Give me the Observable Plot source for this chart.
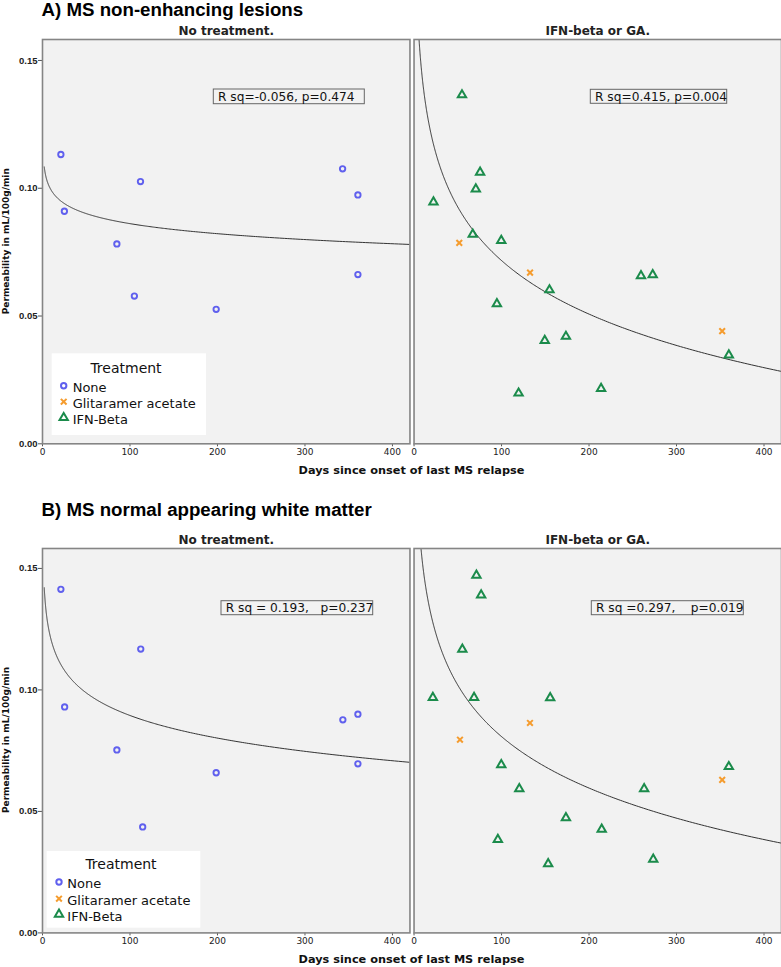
<!DOCTYPE html>
<html>
<head>
<meta charset="utf-8">
<script src="https://cdn.jsdelivr.net/npm/d3@7"></script>
<script src="https://cdn.jsdelivr.net/npm/@observablehq/plot@0.6"></script>
<style>
  body { margin: 0; background: #fff; }
  #root { position: relative; width: 781px; height: 967px; overflow: hidden; background: #fff; }
  [aria-label="fx-axis tick label"] { font-weight: bold; font-size: 12px; }
  [aria-label="y-axis tick label"] { font-weight: bold; font-size: 9.5px; font-family: "Liberation Sans", Arial, sans-serif; }
</style>
</head>
<body>
<div id="root"></div>
<script>
// ---------- shared categories / ticks ----------
const facetNames = ["No treatment.", "IFN-beta or GA."];
const treatments = ["None", "Glitaramer acetate", "IFN-Beta"];
const treatmentColors = ["#6060ee", "#f59c2e", "#1b8b4b"];
const treatmentSymbols = ["circle", "times", "triangle"];
const xTicks = [0, 100, 200, 300, 400];
const yTicks = [0, 0.05, 0.10, 0.15];
const panelTitles = ["A) MS non-enhancing lesions", "B) MS normal appearing white matter"];
const xLabel = "Days since onset of last MS relapse";
const yLabel = "Permeability in mL/100g/min";
const statsA = ["R sq=-0.056, p=0.474", "R sq=0.415, p=0.004"];
const statsB = ["R sq = 0.193,   p=0.237", "R sq =0.297,    p=0.019"];

// ---------- Panel A: MS non-enhancing lesions ----------
const noneDaysA = [21, 25, 112, 85, 105, 198.5, 343, 360.5, 360.5];
const nonePermA = [0.1132, 0.0910, 0.1026, 0.0782, 0.0578, 0.0526, 0.1076, 0.0974, 0.0662];
const gaDaysA = [51.7, 132.6, 352.2];
const gaPermA = [0.0786, 0.0670, 0.0441];
const ifnDaysA = [54.8, 75.5, 70.6, 22.2, 67.1, 99.7, 154.8, 94.7, 259.4, 272.8, 149.4, 173.6, 359.8, 119.5, 213.8];
const ifnPermA = [0.1365, 0.1062, 0.0997, 0.0946, 0.0820, 0.0795, 0.0602, 0.0548, 0.0657, 0.0661, 0.0404, 0.0420, 0.0347, 0.0198, 0.0216];

// ---------- Panel B: MS normal appearing white matter ----------
const noneDaysB = [21, 25.3, 112.3, 85, 114.5, 198.5, 343.3, 360.5, 360.5];
const nonePermB = [0.1414, 0.0930, 0.1168, 0.0753, 0.0436, 0.0659, 0.0877, 0.0900, 0.0696];
const gaDaysB = [52.5, 132.5, 352.2];
const gaPermB = [0.0795, 0.0864, 0.0630];
const ifnDaysB = [71.3, 76.7, 55.2, 21.5, 68.6, 155.6, 99.7, 120.3, 263, 359.8, 173.6, 214.5, 95.8, 153.3, 273.4];
const ifnPermB = [0.1472, 0.1390, 0.1167, 0.0968, 0.0968, 0.0967, 0.0692, 0.0593, 0.0593, 0.0684, 0.0474, 0.0426, 0.0384, 0.0284, 0.0303];

function rows(days, perm, treatment, facet) {
  return days.map((d, i) => ({days: d, perm: perm[i], treatment, facet}));
}

// logarithmic least-squares fit (y = a + b ln x), as in the original curve estimation
function logFit(pts) {
  const lx = pts.map(d => Math.log(d.days));
  const mx = d3.mean(lx), my = d3.mean(pts, d => d.perm);
  let sxy = 0, sxx = 0;
  pts.forEach((d, i) => { sxy += (lx[i] - mx) * (d.perm - my); sxx += (lx[i] - mx) ** 2; });
  const b = sxy / sxx;
  return {a: my - b * mx, b};
}

function panel(points, height, marginBottom) {
  const grid = d3.range(0, 1.0001, 0.002).map(t => 2 * Math.pow(420 / 2, t));
  const curves = facetNames.flatMap(f => {
    const {a, b} = logFit(points.filter(d => d.facet === f && (f === facetNames[0] || d.treatment === "IFN-Beta")));
    return grid.map(x => ({facet: f, days: x, perm: a + b * Math.log(x)}));
  });
  const sym = (i, r, sw) => Plot.dot(points.filter(d => d.treatment === treatments[i]), {
    x: "days", y: "perm", fx: "facet", symbol: treatmentSymbols[i], stroke: treatmentColors[i], fill: "none", r, strokeWidth: sw
  });
  return Plot.plot({
    width: 781, height,
    marginTop: 39, marginBottom, marginLeft: 42, marginRight: 0,
    style: {fontFamily: "DejaVu Sans, sans-serif", fontSize: "9px", color: "#222", background: "transparent", overflow: "visible"},
    fx: {domain: facetNames, padding: 0.011, round: false},
    x: {domain: [0, 420]},
    y: {domain: [0, 0.1582]},
    marks: [
      Plot.frame({fill: "#f2f2f2"}),
      Plot.axisFx({anchor: "top", label: null, tickSize: 0, tickPadding: 5, fontSize: 12, fontWeight: "bold"}),
      Plot.axisX({ticks: xTicks, tickSize: 3, tickPadding: 2, label: null, stroke: "#555"}),
      Plot.axisY({ticks: yTicks, tickFormat: ".2f", tickSize: 4, tickPadding: 1, label: null, stroke: "#555"}),
      Plot.line(curves, {x: "days", y: "perm", fx: "facet", stroke: "#333", strokeWidth: 1, clip: true}),
      sym(0, 2.7, 1.9),
      sym(1, 2.7, 2),
      sym(2, 3.1, 2),
      Plot.frame({stroke: "#858585", strokeWidth: 1.6})
    ]
  });
}

const pointsA = [
  ...rows(noneDaysA, nonePermA, "None", facetNames[0]),
  ...rows(gaDaysA, gaPermA, "Glitaramer acetate", facetNames[1]),
  ...rows(ifnDaysA, ifnPermA, "IFN-Beta", facetNames[1])
];
const pointsB = [
  ...rows(noneDaysB, nonePermB, "None", facetNames[0]),
  ...rows(gaDaysB, gaPermB, "Glitaramer acetate", facetNames[1]),
  ...rows(ifnDaysB, ifnPermB, "IFN-Beta", facetNames[1])
];

const root = document.getElementById("root");
function place(el, top) {
  el.style.position = "absolute"; el.style.left = "0px"; el.style.top = top + "px";
  root.appendChild(el);
}
place(panel(pointsA, 480, 36.7), 0);
place(panel(pointsB, 460, 36.6), 509);

// ---------- overlay: titles, axis labels, stat boxes, legends ----------
const ov = d3.select(root).append("svg")
  .attr("width", 781).attr("height", 967)
  .style("position", "absolute").style("left", "0px").style("top", "0px")
  .style("font-family", "DejaVu Sans, sans-serif");

const layout = [
  {titleY: 16, xlabY: 474.3, ylabY: 241.2, stats: statsA,
   boxes: [[213.3, 89, 151, 14.7, 218, 101], [590.3, 89.3, 136.4, 14, 595, 101]],
   legend: {x: 51.7, y: 353.3, w: 154.3, h: 81.7, tx: 126, ty: 372.7, sx: 63.7, sy: [385.7, 401.7, 417.7], lx: 72.7, ly: [392.3, 407.7, 424]}},
  {titleY: 516, xlabY: 963.3, ylabY: 740, stats: statsB,
   boxes: [[221, 600.7, 151.7, 14, 225.7, 611.7], [591.3, 600.7, 152, 14, 596, 611.7]],
   legend: {x: 46.7, y: 851, w: 153.6, h: 76.7, tx: 121, ty: 869, sx: 59, sy: [882, 898.7, 914.3], lx: 67.3, ly: [888.3, 904.7, 921]}}
];

layout.forEach((L, k) => {
  ov.append("text").attr("x", 41.5).attr("y", L.titleY)
    .style("font-family", "Liberation Sans, Arial, sans-serif").style("font-weight", "bold").style("font-size", "18.7px")
    .attr("fill", "#000").text(panelTitles[k]);
  ov.append("text").attr("x", 411.5).attr("y", L.xlabY).attr("text-anchor", "middle")
    .style("font-weight", "bold").style("font-size", "11.3px").attr("fill", "#111").text(xLabel);
  ov.append("text").attr("transform", `translate(9.3,${L.ylabY}) rotate(-90)`).attr("text-anchor", "middle")
    .style("font-weight", "bold").style("font-size", "9px").attr("fill", "#111").text(yLabel);
  L.boxes.forEach((b, i) => {
    ov.append("rect").attr("x", b[0]).attr("y", b[1]).attr("width", b[2]).attr("height", b[3])
      .attr("fill", "none").attr("stroke", "#666").attr("stroke-width", 1);
    ov.append("text").attr("x", b[4]).attr("y", b[5]).attr("xml:space", "preserve").style("white-space", "pre")
      .style("font-size", "12.2px").attr("fill", "#111").text(L.stats[i]);
  });
  const g = L.legend;
  ov.append("rect").attr("x", g.x).attr("y", g.y).attr("width", g.w).attr("height", g.h).attr("fill", "#fff");
  ov.append("text").attr("x", g.tx).attr("y", g.ty).attr("text-anchor", "middle")
    .style("font-size", "14px").attr("fill", "#111").text("Treatment");
  const shapes = [d3.symbolCircle, d3.symbolTimes, d3.symbolTriangle];
  const sizes = [2.7, 2.7, 3.1];
  treatments.forEach((t, i) => {
    ov.append("path").attr("d", d3.symbol(shapes[i], Math.PI * sizes[i] * sizes[i])())
      .attr("transform", `translate(${g.sx},${g.sy[i]})`)
      .attr("fill", "none").attr("stroke", treatmentColors[i]).attr("stroke-width", 2);
    ov.append("text").attr("x", g.lx).attr("y", g.ly[i]).style("font-size", "13px").attr("fill", "#111").text(t);
  });
});
</script>
</body>
</html>
